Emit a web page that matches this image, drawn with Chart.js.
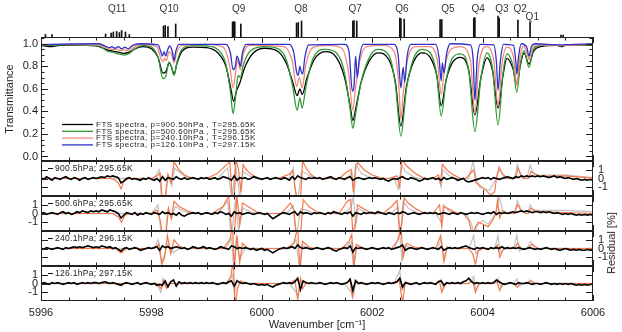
<!DOCTYPE html>
<html>
<head>
<meta charset="utf-8">
<script src="https://cdn.jsdelivr.net/npm/chart.js@4.4.0/dist/chart.umd.min.js"></script>
<style>
  body { margin: 0; background: #fff; }
  #wrap { position: relative; width: 622px; height: 332px; overflow: hidden; font-family: "Liberation Sans", Arial, sans-serif; }
  #wrap canvas { position: absolute; left: 0; }
  #reslabel { position: absolute; left: 611px; top: 243px; transform: translate(-50%, -50%) rotate(-90deg); font-size: 11px; white-space: nowrap; color: #222; }
</style>
</head>
<body>
<div id="wrap">
  <canvas id="sticks" width="622" height="37" style="top:0;width:622px;height:37px"></canvas>
  <canvas id="main" width="622" height="124" style="top:37px;width:622px;height:124px"></canvas>
  <canvas id="r1" width="622" height="35" style="top:161px;width:622px;height:35px"></canvas>
  <canvas id="r2" width="622" height="35" style="top:196px;width:622px;height:35px"></canvas>
  <canvas id="r3" width="622" height="35" style="top:231px;width:622px;height:35px"></canvas>
  <canvas id="r4" width="622" height="66" style="top:266px;width:622px;height:66px"></canvas>
  <div id="reslabel">Residual [%]</div>
</div>
<script>
// ---- data ----
const wnTicks = [5996, 5998, 6000, 6002, 6004, 6006];
const tTicks = [0, 0.2, 0.4, 0.6, 0.8, 1.0];
const resTicks = [-1, 0, 1];

const legendLabels = [
  'FTS spectra, p=900.50hPa , T=295.65K',
  'FTS spectra, p=500.60hPa , T=295.65K',
  'FTS spectra, p=240.10hPa , T=296.15K',
  'FTS spectra, p=126.10hPa , T=297.15K'
];
const panelLabels = ['900.5hPa; 295.65K', '500.6hPa; 295.65K', '240.1hPa; 296.15K', '126.1hPa; 297.15K'];

// line positions (cm-1) and relative stick heights
const stickLines = [
  [5996.08, 2.5], [5996.2, 2.5],
  [5997.17, 3], [5997.27, 4], [5997.31, 5], [5997.37, 5.5], [5997.42, 4.5], [5997.46, 6.5], [5997.53, 5], [5997.6, 2.5],
  [5998.22, 11], [5998.25, 11.5], [5998.3, 10.5], [5998.44, 13],
  [5999.47, 15], [5999.49, 15.5], [5999.51, 15], [5999.62, 13],
  [6000.63, 14], [6000.66, 14.5], [6000.72, 16],
  [6001.65, 16], [6001.67, 16.5], [6001.72, 16],
  [6002.5, 19], [6002.52, 18.5], [6002.58, 18],
  [6003.23, 17.5], [6003.26, 17.5],
  [6003.84, 19], [6003.86, 19.5],
  [6004.28, 21], [6004.3, 19],
  [6004.64, 17],
  [6004.86, 15],
  [6005.42, 2], [6005.46, 2]
];
const qNames = ['Q11', 'Q10', 'Q9', 'Q8', 'Q7', 'Q6', 'Q5', 'Q4', 'Q3', 'Q2', 'Q1'];
const qPos = [5997.38, 5998.32, 5999.58, 6000.71, 6001.69, 6002.54, 6003.37, 6003.92, 6004.35, 6004.68, 6004.9];

// transmittance [wavenumber, T]
const t900 = [
  [5996.0,0.985],[5996.15,0.975],[5996.35,0.985],[5996.8,0.985],[5997.05,0.975],[5997.2,0.945],[5997.3,0.935],
  [5997.4,0.925],[5997.5,0.915],[5997.6,0.925],[5997.7,0.955],[5997.85,0.975],[5998.0,0.955],[5998.12,0.88],
  [5998.21,0.74],[5998.27,0.76],[5998.32,0.83],[5998.36,0.80],[5998.41,0.73],[5998.46,0.82],[5998.55,0.93],
  [5998.75,0.97],[5999.0,0.965],[5999.2,0.92],[5999.35,0.80],[5999.44,0.60],[5999.49,0.49],[5999.54,0.58],
  [5999.6,0.65],[5999.7,0.80],[5999.85,0.92],[6000.05,0.96],[6000.3,0.93],[6000.45,0.82],[6000.56,0.66],
  [6000.64,0.54],[6000.69,0.60],[6000.73,0.55],[6000.82,0.70],[6000.95,0.86],[6001.15,0.93],[6001.35,0.88],
  [6001.5,0.70],[6001.6,0.45],[6001.65,0.32],[6001.7,0.42],[6001.8,0.66],[6001.95,0.85],[6002.1,0.92],
  [6002.3,0.86],[6002.42,0.66],[6002.52,0.27],[6002.62,0.62],[6002.75,0.84],[6002.9,0.92],[6003.05,0.88],
  [6003.17,0.72],[6003.25,0.45],[6003.34,0.68],[6003.45,0.83],[6003.6,0.88],[6003.75,0.76],[6003.86,0.37],
  [6003.97,0.70],[6004.08,0.875],[6004.18,0.76],[6004.28,0.43],[6004.37,0.72],[6004.44,0.87],[6004.55,0.78],
  [6004.62,0.64],[6004.68,0.80],[6004.75,0.92],[6004.84,0.82],[6004.92,0.93],[6005.05,0.975],[6005.35,0.985],
  [6005.42,0.975],[6005.5,0.985],[6006.0,0.985]
];
const t500 = [
  [5996.0,0.99],[5996.15,0.985],[5996.35,0.99],[5997.05,0.98],[5997.2,0.935],[5997.3,0.925],[5997.4,0.91],
  [5997.5,0.90],[5997.6,0.915],[5997.7,0.955],[5997.85,0.985],[5998.0,0.97],[5998.12,0.88],[5998.21,0.69],
  [5998.26,0.71],[5998.32,0.84],[5998.36,0.80],[5998.41,0.72],[5998.47,0.85],[5998.55,0.95],[5998.75,0.985],
  [5999.0,0.98],[5999.2,0.95],[5999.35,0.82],[5999.43,0.58],[5999.48,0.38],[5999.53,0.55],[5999.57,0.72],
  [5999.61,0.70],[5999.67,0.82],[5999.8,0.94],[6000.05,0.975],[6000.3,0.955],[6000.45,0.85],[6000.56,0.62],
  [6000.64,0.41],[6000.69,0.52],[6000.73,0.43],[6000.8,0.62],[6000.92,0.86],[6001.15,0.95],[6001.35,0.92],
  [6001.5,0.74],[6001.6,0.42],[6001.65,0.25],[6001.7,0.38],[6001.8,0.66],[6001.95,0.88],[6002.1,0.95],
  [6002.3,0.90],[6002.42,0.64],[6002.52,0.18],[6002.62,0.60],[6002.75,0.87],[6002.9,0.95],[6003.05,0.92],
  [6003.17,0.72],[6003.25,0.36],[6003.34,0.68],[6003.45,0.87],[6003.6,0.91],[6003.75,0.76],[6003.86,0.22],
  [6003.97,0.70],[6004.08,0.92],[6004.18,0.78],[6004.28,0.28],[6004.37,0.74],[6004.44,0.91],[6004.55,0.80],
  [6004.62,0.57],[6004.68,0.81],[6004.75,0.94],[6004.84,0.79],[6004.92,0.95],[6005.05,0.985],[6005.35,0.99],
  [6005.42,0.98],[6005.5,0.99],[6006.0,0.99]
];
const t240 = [
  [5996.0,0.995],[5997.05,0.99],[5997.2,0.96],[5997.3,0.95],[5997.37,0.955],[5997.43,0.94],[5997.5,0.945],
  [5997.58,0.94],[5997.7,0.975],[5997.85,0.995],[5998.1,0.97],[5998.18,0.86],[5998.21,0.84],[5998.24,0.87],
  [5998.27,0.85],[5998.32,0.93],[5998.37,0.90],[5998.41,0.83],[5998.45,0.91],[5998.55,0.985],[5999.0,0.995],
  [5999.3,0.97],[5999.42,0.80],[5999.48,0.61],[5999.53,0.76],[5999.56,0.86],[5999.61,0.77],[5999.67,0.92],
  [5999.8,0.985],[6000.4,0.975],[6000.55,0.85],[6000.63,0.62],[6000.68,0.70],[6000.73,0.61],[6000.8,0.82],
  [6000.92,0.965],[6001.2,0.985],[6001.45,0.96],[6001.57,0.75],[6001.65,0.41],[6001.7,0.62],[6001.78,0.86],
  [6001.9,0.975],[6002.2,0.985],[6002.4,0.93],[6002.48,0.65],[6002.52,0.33],[6002.56,0.55],[6002.64,0.86],
  [6002.8,0.975],[6003.05,0.975],[6003.18,0.85],[6003.25,0.55],[6003.31,0.78],[6003.42,0.95],[6003.6,0.975],
  [6003.78,0.85],[6003.86,0.38],[6003.93,0.80],[6004.06,0.975],[6004.2,0.86],[6004.28,0.45],[6004.35,0.82],
  [6004.44,0.97],[6004.56,0.88],[6004.62,0.63],[6004.67,0.86],[6004.74,0.98],[6004.81,0.91],[6004.84,0.86],
  [6004.88,0.93],[6004.98,0.99],[6005.42,0.985],[6006.0,0.995]
];
const t126 = [
  [5996.0,0.99],[5996.2,0.995],[5997.05,1.0],[5997.18,0.975],[5997.24,0.965],[5997.28,0.975],[5997.34,0.96],
  [5997.4,0.975],[5997.46,0.955],[5997.52,0.97],[5997.58,0.955],[5997.66,0.985],[5997.8,1.0],[5998.12,0.99],
  [5998.17,0.93],[5998.2,0.89],[5998.23,0.93],[5998.26,0.89],[5998.29,0.94],[5998.33,0.98],[5998.38,0.93],
  [5998.41,0.85],[5998.44,0.93],[5998.5,0.995],[5999.35,0.995],[5999.43,0.92],[5999.48,0.77],[5999.52,0.80],
  [5999.55,0.89],[5999.58,0.86],[5999.61,0.80],[5999.65,0.92],[5999.72,0.995],[6000.5,0.995],[6000.58,0.92],
  [6000.63,0.75],[6000.66,0.72],[6000.69,0.80],[6000.71,0.76],[6000.74,0.73],[6000.78,0.88],[6000.85,0.99],
  [6001.5,0.995],[6001.58,0.93],[6001.64,0.58],[6001.67,0.62],[6001.7,0.89],[6001.73,0.70],[6001.77,0.88],
  [6001.84,0.995],[6002.4,0.995],[6002.47,0.90],[6002.52,0.61],[6002.56,0.79],[6002.59,0.66],[6002.63,0.88],
  [6002.7,0.995],[6003.15,0.995],[6003.21,0.88],[6003.25,0.67],[6003.27,0.83],[6003.3,0.74],[6003.35,0.92],
  [6003.42,1.0],[6003.78,0.99],[6003.83,0.85],[6003.86,0.50],[6003.9,0.85],[6003.96,0.995],[6004.2,0.99],
  [6004.25,0.84],[6004.28,0.59],[6004.32,0.84],[6004.38,0.995],[6004.56,0.985],[6004.6,0.85],[6004.62,0.73],
  [6004.65,0.88],[6004.7,1.0],[6004.8,0.97],[6004.84,0.89],[6004.88,0.97],[6004.95,1.0],[6005.4,0.99],[6006.0,1.0]
];

// residuals: black = fit residual sampled every 0.05 cm-1 from 5996
const resStart = 5996, resStep = 0.05;
const r900 = [
  0.1,-0.1,0.2,0.0,-0.2,0.1,0.0,-0.1,0.1,0.2,0.0,-0.1,0.1,0.0,-0.2,0.0,0.1,-0.1,0.0,0.1,
  0.0,0.1,0.2,0.1,0.3,0.2,0.3,0.2,0.1,-0.5,-0.3,0.0,0.1,-0.1,0.0,-0.1,-0.2,0.0,-0.1,0.1,
  -0.1,-0.2,0.0,-0.3,0.2,-0.2,0.1,0.0,-0.1,0.2,0.0,-0.1,0.1,-0.1,0.0,0.1,0.0,-0.1,0.1,0.0,
  0.1,-0.1,0.0,0.1,-0.1,0.0,0.2,0.1,0.0,-0.2,0.3,-0.2,0.1,0.0,0.1,-0.1,0.0,0.2,0.1,0.0,
  -0.1,0.0,0.1,-0.1,0.0,0.1,0.0,-0.1,0.1,0.0,-0.2,0.2,-0.1,0.3,0.1,0.0,-0.1,0.1,0.0,0.1,
  0.0,0.1,-0.1,0.0,0.1,0.2,0.0,-0.1,0.1,0.0,-0.1,0.1,0.2,-0.2,0.0,0.1,0.0,-0.1,0.0,0.1,
  0.0,0.1,0.0,-0.1,0.0,-0.2,-0.3,-0.1,0.0,-0.1,0.1,0.2,0.0,-0.1,0.1,0.0,-0.1,-0.3,-0.2,0.0,
  -0.1,0.0,0.1,-0.1,0.0,-0.2,0.1,-0.1,0.0,0.1,0.0,-0.2,-0.1,0.0,-0.3,-0.4,-0.3,-0.2,-0.1,0.0,
  0.1,0.0,0.1,-0.1,0.1,0.0,-0.1,0.0,0.1,0.2,0.1,0.0,0.2,0.1,0.3,0.2,0.3,0.2,0.3,0.2,
  0.3,0.2,0.3,0.2,0.1,0.2,0.3,0.1,0.2,0.1,0.0,0.1,0.0,-0.1,0.0,-0.1,-0.2,-0.1,-0.2,-0.1,
  -0.2
];
const r500 = [
  0.0,0.1,-0.1,0.0,0.1,0.0,-0.1,0.1,0.2,0.0,0.1,-0.1,0.0,0.2,0.1,0.3,0.2,0.1,0.3,0.2,
  0.3,0.2,0.4,0.3,0.2,0.4,0.3,0.2,0.0,-0.5,-0.2,0.1,0.0,-0.1,0.1,-0.2,0.0,-0.1,0.1,0.0,
  -0.1,0.1,0.0,-0.1,0.2,0.0,0.1,-0.1,0.0,-0.2,0.1,-0.2,-0.3,-0.1,0.0,0.1,0.0,0.1,-0.1,0.0,
  0.1,0.0,-0.1,0.1,0.0,0.2,0.1,-0.1,0.0,-0.3,0.2,0.0,0.1,-0.1,0.0,0.1,0.0,-0.1,0.0,0.1,
  0.0,-0.1,0.0,-0.3,-0.6,-0.4,-0.2,0.0,0.1,0.0,-0.1,0.1,0.2,-0.2,0.2,0.0,0.1,0.0,-0.1,0.1,
  0.0,0.1,0.0,-0.1,0.1,0.0,0.2,0.1,0.0,-0.1,0.1,0.0,0.2,-0.3,0.1,0.0,-0.1,0.1,0.0,0.1,
  0.1,0.0,0.2,0.1,0.0,-0.1,0.1,0.0,-0.1,0.1,0.0,0.2,0.1,-0.1,0.0,0.1,0.0,-0.1,0.0,0.1,
  0.0,0.1,0.0,0.1,-0.1,0.0,0.1,0.0,-0.1,0.1,0.0,-0.1,0.1,0.0,-0.1,0.0,0.1,0.0,0.1,0.0,
  -0.1,0.0,0.1,0.0,0.2,-0.1,0.1,0.0,0.1,0.0,0.1,0.2,0.1,0.2,0.3,0.2,0.3,0.2,0.1,0.2,
  0.2,0.1,0.2,0.1,0.2,0.1,0.0,0.1,0.0,-0.1,0.0,-0.1,0.0,-0.1,-0.2,-0.1,-0.2,-0.1,-0.2,-0.1,
  -0.2
];
const r240 = [
  0.0,-0.1,0.1,0.0,-0.1,0.0,0.1,0.0,-0.1,0.1,0.0,0.1,0.2,0.1,0.2,0.1,0.2,0.3,0.2,0.1,
  0.2,0.1,0.3,0.2,0.1,0.2,0.0,0.1,-0.1,-0.3,0.0,0.1,-0.1,0.0,0.1,0.0,-0.2,-0.1,0.0,0.1,
  0.0,0.1,0.2,-0.2,0.3,0.1,0.2,0.0,0.1,0.2,0.1,0.0,0.1,-0.1,0.0,0.2,0.1,0.0,0.1,0.2,
  0.0,0.1,0.0,-0.1,0.0,0.2,0.1,0.0,-0.1,0.3,0.2,0.0,0.1,0.0,0.1,0.0,-0.1,0.0,-0.2,-0.1,
  0.0,-0.2,-0.1,-0.3,-0.5,-0.3,-0.1,0.0,0.1,0.0,0.1,0.2,0.0,0.4,0.1,0.0,0.1,0.0,-0.1,0.0,
  0.1,0.0,-0.1,0.0,0.1,0.0,-0.2,-0.3,-0.1,0.0,0.1,0.0,0.3,-0.4,0.1,0.0,0.1,0.0,-0.1,0.0,
  0.1,0.0,-0.1,0.0,0.1,0.0,0.1,-0.1,0.0,0.1,0.2,0.4,-0.2,0.0,0.1,0.0,-0.1,0.0,0.1,0.0,
  -0.1,0.0,0.1,0.0,-0.1,0.2,-0.2,0.0,0.1,0.0,0.1,0.0,0.1,0.2,0.3,0.1,0.0,-0.1,0.1,0.0,
  0.1,0.0,-0.1,0.1,0.0,0.1,0.0,0.2,0.0,0.1,0.0,0.1,0.0,0.1,0.0,-0.1,0.0,0.1,0.0,-0.1,
  0.0,-0.1,0.0,0.1,0.0,-0.1,0.0,-0.1,-0.2,-0.1,0.0,-0.1,-0.2,-0.1,-0.2,-0.1,-0.2,-0.2,-0.1,-0.2,
  -0.2
];
const r126 = [
  0.0,0.1,0.0,-0.1,0.1,0.0,0.1,0.0,-0.1,0.0,0.1,0.0,0.1,-0.1,0.0,0.1,0.0,0.1,0.0,0.1,
  0.1,0.0,0.1,0.2,0.1,0.0,0.1,0.0,-0.1,-0.2,0.0,0.1,0.0,-0.1,0.0,0.1,-0.1,0.0,0.1,0.0,
  -0.1,0.0,-0.2,-0.1,-0.2,0.3,-0.4,0.2,0.4,-0.3,0.2,0.0,0.1,0.0,0.1,0.0,0.1,0.0,0.1,0.0,
  0.1,0.0,0.1,0.0,-0.1,0.0,0.1,0.0,0.2,0.3,-0.3,0.3,0.1,0.0,0.1,0.0,-0.1,0.0,-0.1,-0.2,
  -0.1,-0.2,-0.1,-0.3,-0.4,-0.2,-0.1,0.0,0.1,0.0,0.1,0.0,0.2,0.6,-0.7,0.3,0.1,0.0,0.1,0.0,
  0.0,0.1,0.0,-0.1,0.0,0.1,0.0,0.1,0.0,-0.1,0.0,0.1,0.5,-0.8,0.3,0.0,0.1,0.0,-0.1,0.0,
  0.1,0.0,0.1,0.0,-0.1,0.0,0.1,0.0,0.1,0.2,0.6,-0.4,0.1,0.0,-0.1,0.0,0.1,-0.1,0.0,0.1,
  0.0,0.1,0.0,-0.1,0.2,0.3,-0.2,0.1,0.0,0.1,0.0,0.1,0.0,0.2,0.3,0.6,0.2,0.0,0.1,0.0,
  0.1,0.0,0.1,0.0,0.1,0.4,0.2,0.0,-0.1,0.0,0.1,0.0,-0.1,0.1,0.0,0.0,0.1,0.0,-0.1,0.0,
  0.0,-0.1,0.0,0.1,0.0,-0.1,0.0,-0.1,0.0,-0.1,0.0,-0.1,0.0,-0.1,-0.2,-0.1,-0.2,-0.1,-0.2,-0.1,
  -0.1
];

// residuals of the two other line models [wavenumber, %]
const orange900 = [
  [5996,0],[5997.3,0],[5997.4,-0.5],[5997.45,-1.2],[5997.5,-0.3],[5997.6,0],
  [5998.0,0],[5998.1,0.3],[5998.16,0.6],[5998.2,-2.6],[5998.24,-2.6],[5998.3,0.5],[5998.36,-0.5],[5998.41,1.9],[5998.5,1.0],[5998.6,0.4],[5998.75,0],
  [5999.0,0],[5999.2,0.6],[5999.35,1.5],[5999.42,1.9],[5999.47,-2.6],[5999.5,-2.6],[5999.53,2.2],[5999.58,1.0],[5999.62,-1.5],[5999.66,1.6],[5999.72,1.0],[5999.8,0.5],[5999.95,0],
  [6000.3,0],[6000.5,0.5],[6000.56,0.9],[6000.6,-1.0],[6000.64,-2.6],[6000.7,-2.6],[6000.74,2.0],[6000.8,1.2],[6000.9,0.4],[6001.0,0],
  [6001.4,0],[6001.55,0.8],[6001.62,1.0],[6001.66,-1.6],[6001.7,1.5],[6001.74,1.8],[6001.85,1.0],[6002.0,0.4],[6002.2,0],
  [6002.3,0],[6002.45,0.3],[6002.5,-1.0],[6002.54,2.2],[6002.6,1.6],[6002.7,1.0],[6002.8,0.5],[6002.95,0],
  [6003.1,0],[6003.2,0.4],[6003.24,-0.5],[6003.27,1.6],[6003.35,1.0],[6003.45,0.5],[6003.6,0],
  [6003.7,0],[6003.78,0.6],[6003.84,1.0],[6003.88,-0.5],[6003.95,-0.8],[6004.05,-1.3],[6004.15,-1.9],[6004.22,-1.5],[6004.25,0],
  [6004.3,1.3],[6004.35,0.6],[6004.45,0],[6004.6,0],[6004.64,1.2],[6004.7,0.4],[6004.75,0],
  [6004.83,0],[6004.88,0.8],[6004.95,0.5],[6005.05,0.25],[6005.5,0.3],[6006.0,0.05]
];
const gray900 = [
  [5996,0],[5998.05,0],[5998.14,1.0],[5998.19,-2.6],[5998.25,-2.6],[5998.3,0.3],[5998.37,-0.8],[5998.42,1.2],[5998.55,0.5],[5998.7,0],
  [5999.2,0],[5999.38,1.2],[5999.46,-2.6],[5999.52,1.5],[5999.57,-0.5],[5999.61,-2.6],[5999.66,0.8],[5999.8,0.2],[5999.9,0],
  [6000.5,0],[6000.57,1.2],[6000.6,-1.0],[6000.65,-2.6],[6000.72,0.8],[6000.8,0.6],[6000.95,0],
  [6001.55,0],[6001.63,0.8],[6001.67,-2.0],[6001.71,1.6],[6001.8,0.6],[6002.0,0],
  [6002.4,0],[6002.47,-1.2],[6002.53,1.6],[6002.6,0.8],[6002.75,0.2],[6002.85,0],
  [6003.2,0],[6003.25,-1.0],[6003.28,1.0],[6003.4,0.3],[6003.5,0],
  [6003.75,0],[6003.83,2.0],[6003.88,0],[6003.95,-1.0],[6004.05,-1.2],[6004.12,-1.4],[6004.2,-0.5],[6004.25,0],
  [6004.27,0.6],[6004.32,1.0],[6004.4,0],[6004.58,0],[6004.63,1.6],[6004.68,0.5],[6004.72,0],
  [6004.8,0],[6004.86,1.5],[6004.92,0.6],[6005.0,0.35],[6005.5,0.4],[6006.0,0.1]
];
const orange500 = [
  [5996,0],[5997.3,0],[5997.4,-0.4],[5997.46,-1.0],[5997.52,-0.2],[5997.6,0],
  [5998.0,0],[5998.1,0.4],[5998.16,-0.8],[5998.2,-2.6],[5998.26,-2.6],[5998.31,0.6],[5998.36,-0.6],[5998.41,1.4],[5998.5,0.8],[5998.65,0.3],[5998.8,0],
  [5999.1,0],[5999.3,0.8],[5999.4,2.0],[5999.46,-2.6],[5999.5,-2.6],[5999.55,2.0],[5999.6,-1.2],[5999.65,1.2],[5999.75,0.8],[5999.9,0.2],[6000.0,0],
  [6000.35,0],[6000.52,1.2],[6000.58,0.4],[6000.63,-2.6],[6000.7,-2.6],[6000.75,1.6],[6000.85,0.8],[6001.0,0.2],[6001.1,0],
  [6001.4,0],[6001.55,1.4],[6001.61,1.6],[6001.65,-2.2],[6001.7,-1.0],[6001.73,1.0],[6001.85,0.5],[6002.0,0],
  [6002.2,0],[6002.35,0.8],[6002.45,1.5],[6002.5,-2.6],[6002.54,-1.0],[6002.58,1.8],[6002.65,1.2],[6002.8,0.5],[6002.95,0],
  [6003.1,0],[6003.22,1.0],[6003.26,-1.5],[6003.3,0.8],[6003.45,0.3],[6003.55,0],
  [6003.65,0],[6003.75,-0.8],[6003.82,-2.6],[6003.87,-1.5],[6003.92,-1.0],[6004.0,-1.2],[6004.1,-1.5],[6004.18,-0.8],[6004.24,0],
  [6004.27,1.5],[6004.31,-0.5],[6004.36,0.3],[6004.45,0],[6004.58,0],[6004.63,1.0],[6004.7,0.3],[6004.78,0],
  [6004.83,0],[6004.87,0.6],[6004.95,0.3],[6005.1,0.2],[6006.0,0]
];
const gray500 = [
  [5996,0],[5998.0,0],[5998.12,1.0],[5998.18,-2.6],[5998.25,-2.6],[5998.3,0.4],[5998.37,-0.4],[5998.43,0.8],[5998.6,0.2],[5998.75,0],
  [5999.2,0],[5999.38,1.4],[5999.45,-2.6],[5999.52,1.5],[5999.58,-2.0],[5999.66,0.6],[5999.8,0.2],[5999.9,0],
  [6000.45,0],[6000.57,0.9],[6000.62,-2.6],[6000.71,0.5],[6000.8,0.4],[6000.95,0],
  [6001.5,0],[6001.62,0.8],[6001.66,2.0],[6001.7,-1.5],[6001.75,0.6],[6001.9,0],
  [6002.35,0],[6002.47,0.8],[6002.51,-2.6],[6002.56,1.4],[6002.65,0.6],[6002.85,0],
  [6003.15,0],[6003.25,-1.0],[6003.29,1.0],[6003.4,0.2],[6003.5,0],
  [6003.7,0],[6003.8,-1.2],[6003.85,-2.6],[6003.9,-1.4],[6004.0,-0.8],[6004.1,-1.2],[6004.2,-0.4],[6004.26,0.5],[6004.3,2.0],[6004.36,0.4],[6004.45,0],
  [6004.58,0],[6004.63,1.5],[6004.7,0.4],[6004.78,0],[6004.82,0],[6004.86,1.0],[6004.92,0.4],[6005.05,0.35],[6005.5,0.35],[6006.0,0.2]
];
const orange240 = [
  [5996,0],[5997.35,0],[5997.45,-0.5],[5997.55,0],
  [5998.05,0],[5998.14,0.5],[5998.19,-1.8],[5998.24,-1.0],[5998.29,1.5],[5998.35,-0.6],[5998.41,1.0],[5998.5,0.3],[5998.6,0],
  [5999.3,0],[5999.42,1.0],[5999.47,2.6],[5999.5,-2.6],[5999.55,1.5],[5999.6,-1.6],[5999.65,0.6],[5999.75,0],
  [6000.45,0],[6000.58,0.6],[6000.65,2.4],[6000.69,-2.6],[6000.74,0.8],[6000.85,0.2],[6000.95,0],
  [6001.45,0],[6001.58,0.8],[6001.63,1.6],[6001.67,-2.0],[6001.72,0.4],[6001.85,0],
  [6002.35,0],[6002.47,1.0],[6002.52,2.6],[6002.56,-1.0],[6002.62,0.6],[6002.75,0.2],[6002.9,0],
  [6003.15,0],[6003.24,1.5],[6003.3,-1.5],[6003.36,0.2],[6003.45,0],
  [6003.75,0],[6003.82,-0.6],[6003.87,-1.8],[6003.92,-0.3],[6004.0,0],
  [6004.2,0],[6004.27,0.4],[6004.31,-1.0],[6004.38,0],[6004.58,0],[6004.63,0.6],[6004.7,0],
  [6004.82,0],[6004.9,0.5],[6005.0,0],[6006.0,0]
];
const gray240 = [
  [5996,0],[5998.05,0],[5998.12,1.0],[5998.18,-1.6],[5998.23,-0.8],[5998.3,0.6],[5998.4,-0.5],[5998.5,0],
  [5999.35,0],[5999.45,1.2],[5999.49,-2.0],[5999.54,1.2],[5999.6,-1.2],[5999.7,0],
  [6000.5,0],[6000.62,1.0],[6000.68,-2.2],[6000.73,0.4],[6000.85,0],
  [6001.5,0],[6001.62,0.8],[6001.66,-2.2],[6001.71,0.5],[6001.8,0],
  [6002.4,0],[6002.5,1.6],[6002.54,-1.4],[6002.6,0.4],[6002.7,0],
  [6003.18,0],[6003.25,1.0],[6003.29,-1.0],[6003.36,0],
  [6003.75,0],[6003.84,1.5],[6003.88,-0.6],[6003.95,0],
  [6004.22,0],[6004.28,1.5],[6004.32,-0.5],[6004.4,0],[6004.56,0],[6004.62,1.5],[6004.67,-0.3],[6004.72,0],
  [6004.8,0],[6004.87,0.8],[6004.95,0],[6006.0,0]
];
const orange126 = [
  [5996,0],[5998.1,0],[5998.18,-0.6],[5998.22,0.4],[5998.27,-0.5],[5998.33,0],
  [5999.35,0],[5999.44,0.8],[5999.48,2.6],[5999.52,-2.6],[5999.56,-0.5],[5999.62,0.3],[5999.7,0],
  [6000.5,0],[6000.6,0.4],[6000.65,-1.8],[6000.7,0.6],[6000.74,-0.6],[6000.8,0],
  [6001.5,0],[6001.6,0.3],[6001.64,-1.5],[6001.69,0.4],[6001.75,0],
  [6002.4,0],[6002.49,0.4],[6002.55,-2.2],[6002.6,0.2],[6002.68,0],
  [6003.15,0],[6003.22,0.3],[6003.26,-1.0],[6003.32,0],
  [6003.75,0],[6003.82,0.3],[6003.87,-1.0],[6003.93,0],
  [6004.2,0],[6004.26,0.2],[6004.31,-0.8],[6004.37,0],[6004.56,0],[6004.63,-0.4],[6004.68,0],
  [6004.8,0],[6004.88,0.3],[6004.95,0],[6006.0,0]
];
const gray126 = [
  [5996,0],[5998.1,0],[5998.17,-1.0],[5998.21,0.5],[5998.26,-0.3],[5998.32,0],
  [5999.4,0],[5999.47,1.0],[5999.5,-1.2],[5999.55,0.4],[5999.62,0],
  [6000.5,0],[6000.62,-1.0],[6000.66,-1.5],[6000.71,0.4],[6000.78,0],
  [6001.5,0],[6001.62,-1.0],[6001.66,-1.5],[6001.71,0.4],[6001.78,0],
  [6002.4,0],[6002.5,1.5],[6002.54,-0.8],[6002.6,0],
  [6003.15,0],[6003.25,0.5],[6003.29,-0.6],[6003.35,0],
  [6003.75,0],[6003.84,0.8],[6003.88,-0.8],[6003.95,0],
  [6004.2,0],[6004.28,0.6],[6004.33,-0.4],[6004.4,0],[6004.56,0],[6004.62,0.5],[6004.67,-0.3],[6004.72,0],
  [6004.8,0],[6004.86,0.4],[6004.92,0],[6006.0,0]
];

// ---- drawing ----
const fam = '"Liberation Sans", Arial, sans-serif';
Chart.defaults.font.family = fam;
Chart.defaults.color = '#222';
Chart.defaults.animation = false;

const colors = { black: '#000000', green: '#2f9a35', red: '#f08a7c', blue: '#3030c8', orange: '#f5774c', gray: '#c4c4c4' };
const pairs = arr => arr.map(p => ({ x: p[0], y: p[1] }));
const sampled = arr => arr.map((v, i) => ({ x: resStart + i * resStep, y: v }));
const noPad = s => { s.paddingTop = 0; s.paddingBottom = 0; s.paddingLeft = 0; s.paddingRight = 0; };

// box with inward ticks, drawn on top of the data
const frameTicks = {
  id: 'frameTicks',
  afterDatasetsDraw(chart, args, o) {
    const { ctx, chartArea: a, scales } = chart;
    const xs = scales.x, ys = scales.y;
    ctx.save();
    ctx.strokeStyle = '#222';
    ctx.lineWidth = 1;
    ctx.beginPath();
    for (let i = 0; i <= 20; i++) {
      const px = Math.round(xs.getPixelForValue(5996 + i * 0.5)) + 0.5;
      const len = i % 4 === 0 ? 6 : 3.5;
      ctx.moveTo(px, a.top); ctx.lineTo(px, a.top + len);
      ctx.moveTo(px, a.bottom); ctx.lineTo(px, a.bottom - len);
    }
    (o.major || []).forEach(v => {
      const py = Math.round(ys.getPixelForValue(v)) + 0.5;
      ctx.moveTo(a.left, py); ctx.lineTo(a.left + 7, py);
      ctx.moveTo(a.right, py); ctx.lineTo(a.right - 7, py);
    });
    (o.minor || []).forEach(v => {
      const py = Math.round(ys.getPixelForValue(v)) + 0.5;
      ctx.moveTo(a.left, py); ctx.lineTo(a.left + 3.5, py);
      ctx.moveTo(a.right, py); ctx.lineTo(a.right - 3.5, py);
    });
    ctx.stroke();
    ctx.strokeRect(Math.round(a.left) + 0.5, Math.round(a.top) + 0.5, Math.round(a.width) - 1, Math.round(a.height) - 1);
    ctx.restore();
  }
};

const legendBox = {
  id: 'legendBox',
  afterDatasetsDraw(chart, args, o) {
    if (!o.rows) return;
    const { ctx } = chart;
    ctx.save();
    ctx.font = '8px ' + fam;
    ctx.letterSpacing = '0.5px';
    ctx.textBaseline = 'middle';
    ctx.fillStyle = '#222';
    o.rows.forEach((r, i) => {
      const y = o.y0 + i * o.dy;
      ctx.strokeStyle = r.color; ctx.lineWidth = 1.3;
      ctx.beginPath(); ctx.moveTo(o.x0, y); ctx.lineTo(o.x0 + 31, y); ctx.stroke();
      ctx.fillText(r.text, o.x0 + 34, y, 165);
    });
    ctx.restore();
  }
};

const panelLabel = {
  id: 'panelLabel',
  afterDatasetsDraw(chart, args, o) {
    if (!o.text) return;
    const { ctx, chartArea: a } = chart;
    const y = a.top + 7.5;
    ctx.save();
    ctx.strokeStyle = '#111'; ctx.lineWidth = 1;
    ctx.beginPath(); ctx.moveTo(a.left + 7, y); ctx.lineTo(a.left + 12, y); ctx.stroke();
    ctx.font = '8.5px ' + fam;
    ctx.letterSpacing = '0.3px';
    ctx.textBaseline = 'middle';
    ctx.fillStyle = '#222';
    ctx.fillText(o.text, a.left + 14, y, 79);
    ctx.restore();
  }
};

const qLabels = {
  id: 'qLabels',
  afterDatasetsDraw(chart) {
    const { ctx, scales } = chart;
    ctx.save();
    ctx.font = '10px ' + fam;
    ctx.textAlign = 'center';
    ctx.textBaseline = 'middle';
    ctx.fillStyle = '#333';
    qNames.forEach((n, i) => {
      const px = scales.x.getPixelForValue(qPos[i]);
      ctx.fillText(n, px, n === 'Q1' ? 17 : 9);
    });
    ctx.restore();
  }
};

const xRange = { type: 'linear', min: 5996, max: 6006, offset: false };

// stick spectrum above the main panel
new Chart(document.getElementById('sticks'), {
  type: 'bar',
  data: { datasets: [{ data: pairs(stickLines), backgroundColor: '#111', barThickness: 1 }] },
  options: {
    responsive: false, maintainAspectRatio: false,
    layout: { padding: { left: 41, right: 29, top: 0, bottom: 0 }, autoPadding: false },
    plugins: { legend: { display: false }, tooltip: { enabled: false } },
    scales: {
      x: Object.assign({ display: false }, xRange),
      y: { display: false, min: 0, max: 37 }
    }
  },
  plugins: [qLabels]
});

// transmittance panel
const minorT = [];
for (let i = 0; i <= 21; i++) if (i % 4 !== 0) minorT.push(i * 0.05);

new Chart(document.getElementById('main'), {
  type: 'line',
  data: {
    datasets: [
      { label: legendLabels[0], data: pairs(t900), borderColor: colors.black, order: 4 },
      { label: legendLabels[1], data: pairs(t500), borderColor: colors.green, order: 3 },
      { label: legendLabels[2], data: pairs(t240), borderColor: colors.red, order: 2 },
      { label: legendLabels[3], data: pairs(t126), borderColor: colors.blue, order: 1 }
    ]
  },
  options: {
    responsive: false, maintainAspectRatio: false,
    layout: { padding: { left: 0, right: 29, top: 0, bottom: 0 }, autoPadding: false },
    elements: { point: { radius: 0 }, line: { borderWidth: 1.3, cubicInterpolationMode: 'monotone' } },
    plugins: {
      legend: { display: false }, tooltip: { enabled: false },
      frameTicks: { major: tTicks, minor: minorT },
      legendBox: { x0: 62, y0: 87.5, dy: 6.8, rows: legendLabels.map((t, i) => ({ text: t, color: [colors.black, colors.green, colors.red, colors.blue][i] })) }
    },
    scales: {
      x: Object.assign({ display: false }, xRange),
      y: {
        min: -0.04, max: 1.06,
        afterBuildTicks: s => { s.ticks = tTicks.map(v => ({ value: v })); },
        afterFit: s => { s.width = 41; noPad(s); },
        grid: { display: false, drawTicks: false }, border: { display: false },
        ticks: { autoSkip: false, padding: 3, font: { size: 11 }, callback: v => v.toFixed(1) },
        title: { display: true, text: 'Transmittance', font: { size: 11 }, padding: { top: 3.5, bottom: 0 } }
      }
    }
  },
  plugins: [frameTicks, legendBox]
});

// residual panels
function residual(id, label, black, orange, gray, side, last) {
  const x = Object.assign({}, xRange, last ? {
    display: true,
    afterBuildTicks: s => { s.ticks = wnTicks.map(v => ({ value: v })); },
    afterFit: s => { s.height = 31; noPad(s); },
    grid: { display: false, drawTicks: false }, border: { display: false },
    ticks: { autoSkip: false, maxRotation: 0, padding: 5, font: { size: 11 }, callback: v => String(v) },
    title: { display: true, text: 'Wavenumber [cm\u207B\u00B9]', font: { size: 11 }, padding: { top: 0, bottom: 0 } }
  } : { display: false });
  return new Chart(document.getElementById(id), {
    type: 'line',
    data: {
      datasets: [
        { data: sampled(black), borderColor: colors.black, borderWidth: 1.6, order: 0 },
        { data: pairs(orange), borderColor: colors.orange, borderWidth: 1.2, order: 1 },
        { data: pairs(gray), borderColor: colors.gray, borderWidth: 1.3, order: 2 }
      ]
    },
    options: {
      responsive: false, maintainAspectRatio: false,
      layout: { padding: { left: side === 'left' ? 0 : 41, right: side === 'left' ? 29 : 0, top: 0, bottom: 0 }, autoPadding: false },
      elements: { point: { radius: 0 }, line: { tension: 0 } },
      plugins: {
        legend: { display: false }, tooltip: { enabled: false },
        frameTicks: { major: resTicks },
        panelLabel: { text: label }
      },
      scales: {
        x: x,
        y: {
          position: side, min: -2, max: 2,
          afterBuildTicks: s => { s.ticks = resTicks.map(v => ({ value: v })); },
          afterFit: s => { s.width = side === 'left' ? 41 : 29; noPad(s); },
          grid: { display: false, drawTicks: false }, border: { display: false },
          ticks: { autoSkip: false, padding: side === 'left' ? 3 : 5, font: { size: 11 }, callback: v => String(v) }
        }
      }
    },
    plugins: [frameTicks, panelLabel]
  });
}

residual('r1', panelLabels[0], r900, orange900, gray900, 'right', false);
residual('r2', panelLabels[1], r500, orange500, gray500, 'left', false);
residual('r3', panelLabels[2], r240, orange240, gray240, 'right', false);
residual('r4', panelLabels[3], r126, orange126, gray126, 'left', true);
</script>
</body>
</html>
